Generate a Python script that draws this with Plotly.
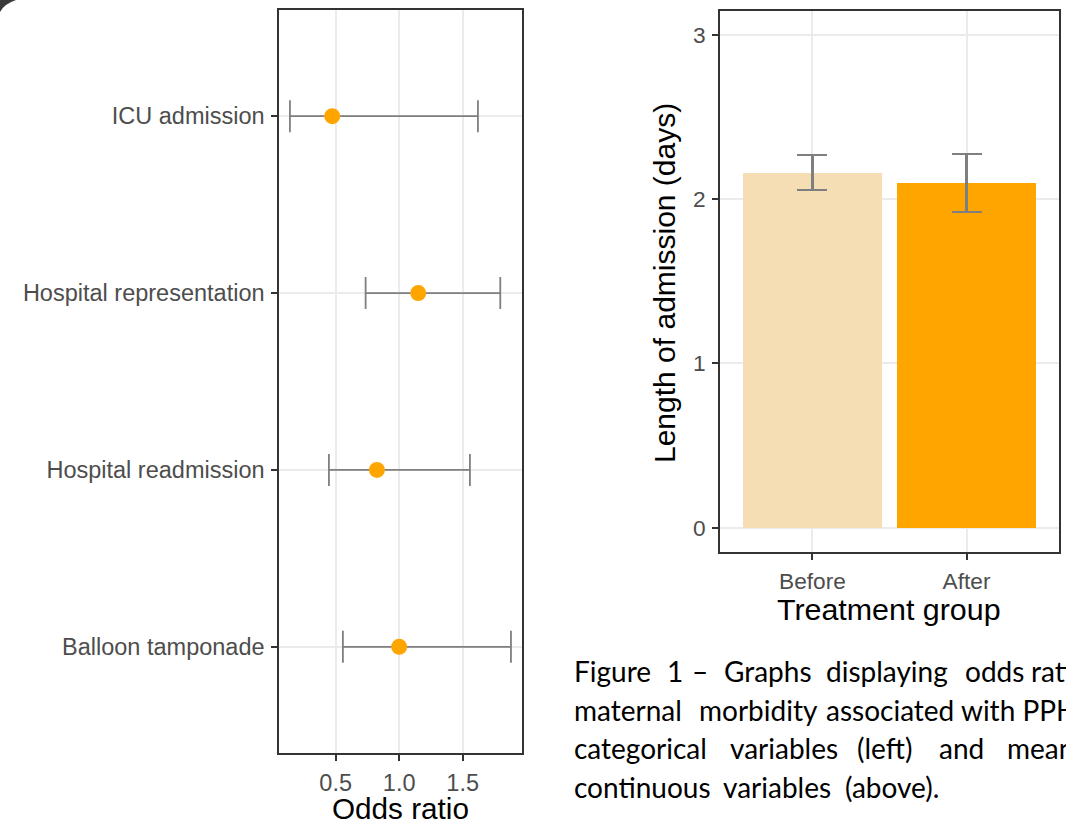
import plotly.graph_objects as go

W, H = 1066, 822

# ---- Data: odds ratios (left panel) ----
outcomes = ["Balloon tamponade", "Hospital readmission", "Hospital representation", "ICU admission"]
odds_ratio = [1.00, 0.825, 1.15, 0.473]
ci_lower = [0.557, 0.447, 0.736, 0.14]
ci_upper = [1.88, 1.557, 1.796, 1.62]

# ---- Data: length of admission (right panel) ----
groups = ["Before", "After"]
mean_los = [2.16, 2.10]
los_lower = [2.056, 1.92]
los_upper = [2.27, 2.275]

or_ticks = [0.5, 1.0, 1.5]
or_ticklabels = ["0.5", "1.0", "1.5"]
los_ticks = [0, 1, 2, 3]

caption_words = [
    ["Figure", "1", "–", "Graphs", "displaying", "odds", "ratios"],
    ["maternal", "morbidity", "associated with PPH"],
    ["categorical", "variables", "(left)", "and", "mean"],
    ["continuous", "variables", "(above)."],
]
# layout: left pixel of each word group (justified text)
caption_word_x = [
    [575, 668, 693, 725, 827, 966, 1032],
    [575, 700, 827],
    [575, 731, 858, 940, 1008],
    [575, 724, 846],
]

FONT = "Liberation Sans, Arial, sans-serif"
TICK_COLOR = "#4D4D4D"
BORDER = "#333333"
GRID = "#EBEBEB"

def px_x(x):
    return x / W

def px_y(y):
    return 1 - y / H

fig = go.Figure()

# left: forest plot
fig.add_trace(go.Scatter(
    x=odds_ratio, y=outcomes, mode="markers",
    marker=dict(color="#FFA500", size=16, line=dict(width=0)),
    error_x=dict(type="data", symmetric=False,
                 array=[u - m for u, m in zip(ci_upper, odds_ratio)],
                 arrayminus=[m - l for m, l in zip(odds_ratio, ci_lower)],
                 color="#7F7F7F", thickness=1.8, width=16),
    xaxis="x", yaxis="y", showlegend=False, cliponaxis=False,
))

# right: bar chart
fig.add_trace(go.Bar(
    x=groups, y=mean_los, width=0.9,
    marker=dict(color=["#F5DEB3", "#FFA500"], line=dict(width=0)),
    error_y=dict(type="data", symmetric=False,
                 array=[u - m for u, m in zip(los_upper, mean_los)],
                 arrayminus=[m - l for m, l in zip(mean_los, los_lower)],
                 color="#7F7F7F", thickness=2.2, width=15),
    xaxis="x2", yaxis="y2", showlegend=False,
))

def axis_common(tsize):
    return dict(
        showline=True, mirror=True, linecolor=BORDER, linewidth=1.5,
        showgrid=True, gridcolor=GRID, gridwidth=1.5,
        zeroline=False, ticks="outside", ticklen=6, tickwidth=1.5, tickcolor=BORDER,
        tickfont=dict(family=FONT, size=tsize, color=TICK_COLOR),
        automargin=False, fixedrange=True, ticklabelstandoff=2,
    )

fig.update_layout(
    width=W, height=H,
    margin=dict(l=0, r=0, t=0, b=0),
    paper_bgcolor="white", plot_bgcolor="white",
    template="none",
    bargap=0,
    xaxis=dict(domain=[px_x(279), px_x(522)], range=[0.054, 1.967],
               tickvals=or_ticks, ticktext=or_ticklabels, anchor="y", **axis_common(23.5)),
    yaxis=dict(domain=[px_y(753), px_y(10)], type="category",
               categoryorder="array", categoryarray=outcomes,
               range=[-0.6, 3.6], anchor="x", **axis_common(23.5)),
    xaxis2=dict(domain=[px_x(720), px_x(1059)], type="category",
                categoryorder="array", categoryarray=groups,
                range=[-0.6, 1.6], anchor="y2", **axis_common(22.7)),
    yaxis2=dict(domain=[px_y(552), px_y(11)], range=[-0.148, 3.146],
                tickvals=los_ticks, anchor="x2", **axis_common(22.7)),
)

# reference line at OR = 1
fig.add_shape(type="line", xref="x", yref="y domain", x0=1, x1=1, y0=0, y1=1,
              line=dict(color="#444444", width=1.5, dash="3px,3px"), layer="below")

# axis titles
fig.add_annotation(text="Odds ratio", x=px_x(400), y=px_y(808), xref="paper", yref="paper",
                   showarrow=False, xanchor="center", yanchor="middle", borderpad=0,
                   font=dict(family=FONT, size=29.7, color="black"))
fig.add_annotation(text="Treatment group", x=px_x(889), y=px_y(609), xref="paper", yref="paper",
                   showarrow=False, xanchor="center", yanchor="middle",
                   font=dict(family=FONT, size=30.4, color="black"))
fig.add_annotation(text="Length of admission (days)", x=px_x(664), y=px_y(283), xref="paper",
                   yref="paper", showarrow=False, xanchor="center", yanchor="middle",
                   textangle=-90, font=dict(family=FONT, size=30, color="black"))

# caption (justified lines, clipped at the right edge like the original)
for i, (words, xs) in enumerate(zip(caption_words, caption_word_x)):
    for word, x in zip(words, xs):
        fig.add_annotation(text=word, x=px_x(x - 2), y=px_y(671 + i * 38.5),
                           xref="paper", yref="paper", showarrow=False, borderpad=0,
                           xanchor="left", yanchor="middle", align="left",
                           font=dict(family="Lato, Carlito, sans-serif", size=28, color="black"))

# dark corner artifact at top-left
fig.add_shape(type="path", xref="paper", yref="paper",
              path=f"M 0 1 L {px_x(16)} 1 Q {px_x(4)} {px_y(4)} 0 {px_y(12)} Z",
              fillcolor="#3A3A3A", line=dict(width=0), layer="above")

fig.write_html("out.html",
               config={"displayModeBar": False},
               post_script="document.body.style.margin='0';document.body.style.overflow='hidden';")
